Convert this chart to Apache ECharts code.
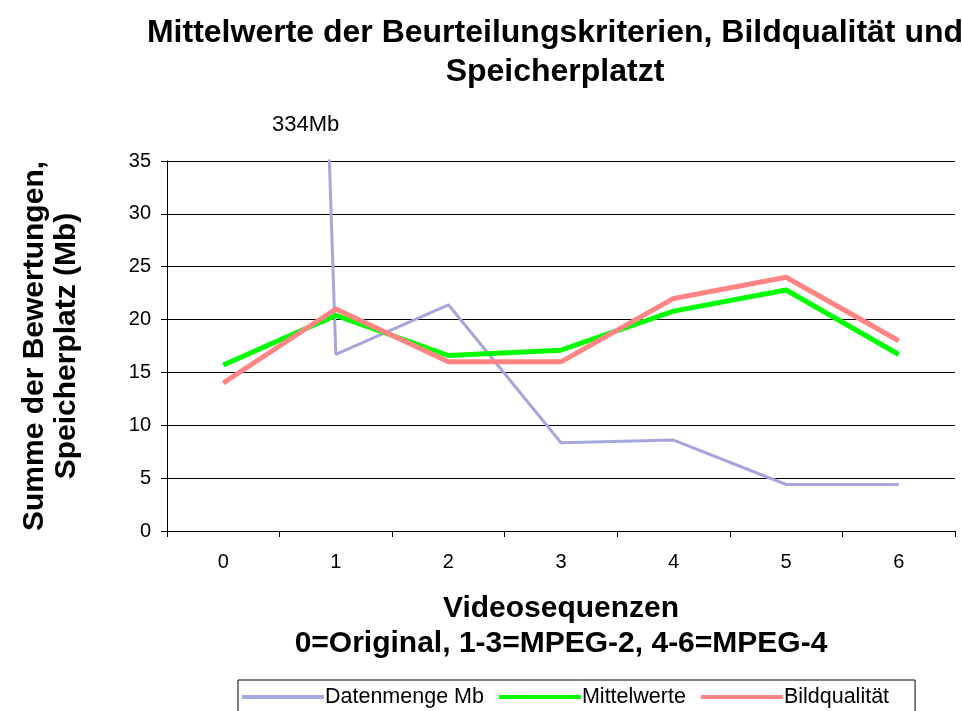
<!DOCTYPE html>
<html>
<head>
<meta charset="utf-8">
<script src="https://cdn.jsdelivr.net/npm/echarts@6/dist/echarts.min.js"></script>
<style>
  html, body { margin: 0; padding: 0; background: #fff; }
  #chart { width: 962px; height: 711px; }
</style>
</head>
<body>
<div id="chart"></div>
<script>
// categories: video sequences
const categories = ['0', '1', '2', '3', '4', '5', '6'];
// Datenmenge in Mb (original is 334Mb, goes off the chart)
const datenmenge = [334, 16.7, 21.4, 8.35, 8.6, 4.4, 4.4];
const mittelwerte = [15.7, 20.4, 16.6, 17.1, 20.8, 22.8, 16.7];
const bildqualitaet = [14, 21, 16, 16, 22, 24, 18];
const yTicks = { min: 0, max: 35, interval: 5 };

const FONT = '"Liberation Sans", Arial, sans-serif';

var chart = echarts.init(document.getElementById('chart'));

const option = {
  backgroundColor: '#fff',
  animation: false,
  textStyle: { fontFamily: FONT, color: '#000' },
  title: {
    text: 'Mittelwerte der Beurteilungskriterien, Bildqualität und\nSpeicherplatzt',
    left: 550,
    top: 9,
    textAlign: 'center',
    textStyle: {
      fontFamily: FONT,
      fontSize: 32,
      fontWeight: 'bold',
      color: '#000',
      lineHeight: 39
    }
  },
  graphic: [
    {
      type: 'text',
      left: 272,
      top: 114,
      style: { text: '334Mb', font: '22px "Liberation Sans", Arial, sans-serif', fill: '#000' }
    }
  ],
  legend: {
    data: ['Datenmenge Mb', 'Mittelwerte', 'Bildqualität'],
    left: 238,
    top: 680,
    icon: 'rect',
    itemWidth: 82,
    itemHeight: 4,
    itemGap: 15,
    padding: [6, 26, 10, 4],
    borderColor: '#000',
    borderWidth: 1,
    textStyle: { fontFamily: FONT, fontSize: 21.5, color: '#000', padding: [0, 0, 0, -4] }
  },
  grid: {
    left: 167,
    right: 7,
    top: 161,
    bottom: 180
  },
  xAxis: {
    type: 'category',
    data: categories,
    boundaryGap: true,
    name: 'Videosequenzen\n0=Original, 1-3=MPEG-2, 4-6=MPEG-4',
    nameLocation: 'middle',
    nameGap: 60,
    nameTextStyle: {
      fontFamily: FONT,
      fontSize: 30,
      fontWeight: 'bold',
      color: '#000',
      lineHeight: 35
    },
    axisLine: { lineStyle: { color: '#000', width: 1 } },
    axisTick: { show: true, length: 6, lineStyle: { color: '#000' } },
    axisLabel: { fontFamily: FONT, fontSize: 20, color: '#000', margin: 21 },
    splitLine: { show: false }
  },
  yAxis: {
    type: 'value',
    min: yTicks.min,
    max: yTicks.max,
    interval: yTicks.interval,
    name: 'Summe der Bewertungen,\nSpeicherplatz (Mb)',
    nameLocation: 'middle',
    nameRotate: 90,
    nameGap: 84,
    nameTextStyle: {
      fontFamily: FONT,
      fontSize: 30,
      fontWeight: 'bold',
      color: '#000',
      lineHeight: 32
    },
    axisLine: { show: true, lineStyle: { color: '#000', width: 1 } },
    axisTick: { show: true, length: 6, lineStyle: { color: '#000' } },
    axisLabel: { fontFamily: FONT, fontSize: 20, color: '#000', margin: 16 },
    splitLine: { show: true, lineStyle: { color: '#000', width: 1 } }
  },
  series: [
    {
      name: 'Datenmenge Mb',
      type: 'line',
      data: datenmenge,
      symbol: 'none',
      clip: true,
      color: '#a6a6dc',
      lineStyle: { color: '#a6a6dc', width: 3 }
    },
    {
      name: 'Mittelwerte',
      type: 'line',
      data: mittelwerte,
      symbol: 'none',
      color: '#00ff00',
      lineStyle: { color: '#00ff00', width: 5 }
    },
    {
      name: 'Bildqualität',
      type: 'line',
      data: bildqualitaet,
      symbol: 'none',
      color: '#ff8585',
      lineStyle: { color: '#ff8585', width: 5 }
    }
  ]
};

chart.setOption(option);
</script>
</body>
</html>
